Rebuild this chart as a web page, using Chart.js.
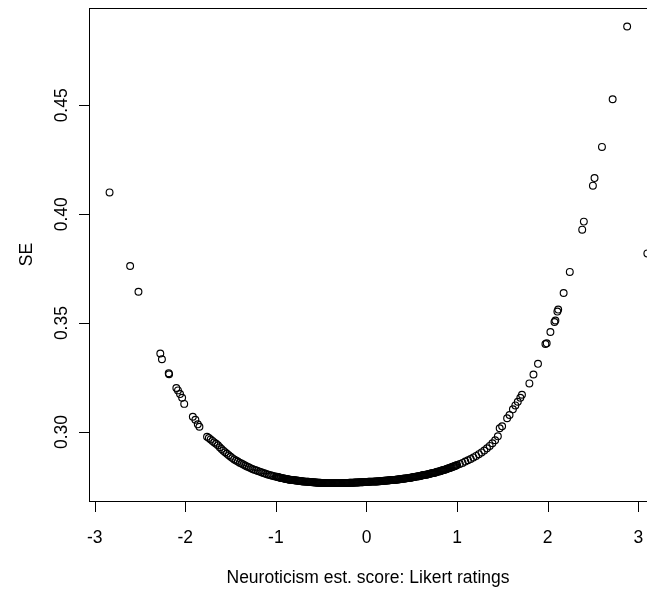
<!DOCTYPE html>
<html>
<head>
<meta charset="utf-8">
<script src="https://cdn.jsdelivr.net/npm/chart.js@4.4.1/dist/chart.umd.min.js"></script>
<style>
  html, body { margin: 0; padding: 0; background: #fff; }
  #wrap { width: 647px; height: 594px; overflow: hidden; position: relative; }
  #seChart { display: block; }
</style>
</head>
<body>
<div id="wrap"><canvas id="seChart" width="700" height="594"></canvas></div>
<script>
// theta estimates (Likert ratings) and their standard errors
var thetaLikert = [
  -2.836, -2.609, -2.517, -2.276, -2.258, -2.183, -2.179, -2.099, -2.081, -2.058, -2.035, -2.012,
  -1.917, -1.889, -1.862, -1.844,
  -1.76, -1.74, -1.72, -1.70, -1.68, -1.66, -1.64, -1.62, -1.60, -1.58, -1.56, -1.54, -1.52,
  -1.50, -1.48, -1.46, -1.44, -1.42, -1.40, -1.38, -1.36, -1.34, -1.32, -1.30, -1.28, -1.26,
  -1.24, -1.22, -1.20, -1.18, -1.16, -1.14, -1.12, -1.10, -1.08, -1.06, -1.04, -1.02,
  -1.00, -0.99, -0.98, -0.97, -0.96, -0.95, -0.94, -0.93, -0.92, -0.91,
  -0.90, -0.89, -0.88, -0.87, -0.86, -0.85, -0.84, -0.83, -0.82, -0.81,
  -0.80, -0.79, -0.78, -0.77, -0.76, -0.75, -0.74, -0.73, -0.72, -0.71,
  -0.70, -0.69, -0.68, -0.67, -0.66, -0.65, -0.64, -0.63, -0.62, -0.61,
  -0.60, -0.59, -0.58, -0.57, -0.56, -0.55, -0.54, -0.53, -0.52, -0.51,
  -0.50, -0.49, -0.48, -0.47, -0.46, -0.45, -0.44, -0.43, -0.42, -0.41,
  -0.40, -0.39, -0.38, -0.37, -0.36, -0.35, -0.34, -0.33, -0.32, -0.31,
  -0.30, -0.29, -0.28, -0.27, -0.26, -0.25, -0.24, -0.23, -0.22, -0.21,
  -0.20, -0.19, -0.18, -0.17, -0.16, -0.15, -0.14, -0.13, -0.12, -0.11,
  -0.10, -0.09, -0.08, -0.07, -0.06, -0.05, -0.04, -0.03, -0.02, -0.01,
  0.00, 0.01, 0.02, 0.03, 0.04, 0.05, 0.06, 0.07, 0.08, 0.09,
  0.10, 0.11, 0.12, 0.13, 0.14, 0.15, 0.16, 0.17, 0.18, 0.19,
  0.20, 0.21, 0.22, 0.23, 0.24, 0.25, 0.26, 0.27, 0.28, 0.29,
  0.30, 0.31, 0.32, 0.33, 0.34, 0.35, 0.36, 0.37, 0.38, 0.39,
  0.40, 0.41, 0.42, 0.43, 0.44, 0.45, 0.46, 0.47, 0.48, 0.49,
  0.50, 0.51, 0.52, 0.53, 0.54, 0.55, 0.56, 0.57, 0.58, 0.59,
  0.60, 0.61, 0.62, 0.63, 0.64, 0.65, 0.66, 0.67, 0.68, 0.69,
  0.70, 0.71, 0.72, 0.73, 0.74, 0.75, 0.76, 0.77, 0.78, 0.79,
  0.80, 0.81, 0.82, 0.83, 0.84, 0.85, 0.86, 0.87, 0.88, 0.89,
  0.90, 0.91, 0.92, 0.93, 0.94, 0.95, 0.96, 0.97, 0.98, 0.99,
  1.00,
  1.03, 1.06, 1.09, 1.12, 1.15, 1.18, 1.21, 1.24, 1.27, 1.30, 1.33, 1.36, 1.39, 1.42, 1.45,
  1.470, 1.497, 1.552, 1.579, 1.616, 1.643, 1.670, 1.698, 1.716, 1.798, 1.843, 1.893,
  1.975, 1.989, 2.030, 2.075, 2.085, 2.107, 2.116, 2.176, 2.244, 2.381, 2.399, 2.499,
  2.517, 2.599, 2.717, 2.877, 3.100
];
var seLikert = [
  0.4100, 0.3762, 0.3644, 0.3360, 0.3334, 0.3270, 0.3265, 0.3202, 0.3191, 0.3174, 0.3157, 0.3129,
  0.3070, 0.3056, 0.3035, 0.3024,
  0.2978, 0.2972, 0.2966, 0.2959, 0.2952, 0.2946, 0.2939, 0.2930, 0.2922, 0.2914, 0.2907, 0.2900, 0.2893,
  0.2886, 0.2880, 0.2874, 0.2869, 0.2864, 0.2859, 0.2855, 0.2851, 0.2846, 0.2842, 0.2838, 0.2834, 0.2830,
  0.2827, 0.2824, 0.2821, 0.2818, 0.2815, 0.2812, 0.2809, 0.2806, 0.2804, 0.2801, 0.2799, 0.2797,
  0.2795, 0.2794, 0.2793, 0.2792, 0.2791, 0.2790, 0.2789, 0.2788, 0.2787, 0.2786,
  0.2785, 0.2784, 0.2784, 0.2783, 0.2782, 0.2781, 0.2781, 0.2780, 0.2779, 0.2779,
  0.2778, 0.2778, 0.2777, 0.2777, 0.2776, 0.2776, 0.2775, 0.2775, 0.2774, 0.2774,
  0.2773, 0.2773, 0.2772, 0.2772, 0.2771, 0.2771, 0.2771, 0.2770, 0.2770, 0.2770,
  0.2769, 0.2769, 0.2769, 0.2768, 0.2768, 0.2768, 0.2767, 0.2767, 0.2767, 0.2767,
  0.2766, 0.2766, 0.2766, 0.2766, 0.2766, 0.2765, 0.2765, 0.2765, 0.2765, 0.2765,
  0.2765, 0.2765, 0.2765, 0.2765, 0.2765, 0.2765, 0.2765, 0.2765, 0.2765, 0.2765,
  0.2765, 0.2765, 0.2765, 0.2765, 0.2766, 0.2766, 0.2766, 0.2766, 0.2766, 0.2766,
  0.2766, 0.2767, 0.2767, 0.2767, 0.2767, 0.2767, 0.2767, 0.2768, 0.2768, 0.2768,
  0.2768, 0.2768, 0.2769, 0.2769, 0.2769, 0.2769, 0.2769, 0.2770, 0.2770, 0.2770,
  0.2770, 0.2770, 0.2771, 0.2771, 0.2771, 0.2772, 0.2772, 0.2772, 0.2772, 0.2773,
  0.2773, 0.2773, 0.2773, 0.2774, 0.2774, 0.2774, 0.2775, 0.2775, 0.2775, 0.2776,
  0.2776, 0.2776, 0.2777, 0.2777, 0.2777, 0.2778, 0.2778, 0.2779, 0.2779, 0.2779,
  0.2780, 0.2780, 0.2781, 0.2781, 0.2782, 0.2782, 0.2783, 0.2783, 0.2784, 0.2784,
  0.2785, 0.2785, 0.2786, 0.2786, 0.2787, 0.2788, 0.2788, 0.2789, 0.2790, 0.2790,
  0.2791, 0.2792, 0.2793, 0.2793, 0.2794, 0.2795, 0.2796, 0.2797, 0.2797, 0.2798,
  0.2799, 0.2800, 0.2801, 0.2802, 0.2803, 0.2804, 0.2804, 0.2805, 0.2806, 0.2807,
  0.2808, 0.2809, 0.2810, 0.2811, 0.2812, 0.2813, 0.2814, 0.2815, 0.2817, 0.2818,
  0.2819, 0.2820, 0.2821, 0.2823, 0.2824, 0.2825, 0.2826, 0.2828, 0.2829, 0.2831,
  0.2832, 0.2834, 0.2835, 0.2837, 0.2838, 0.2840, 0.2841, 0.2843, 0.2845, 0.2846,
  0.2848,
  0.2853, 0.2858, 0.2864, 0.2870, 0.2876, 0.2883, 0.2890, 0.2898, 0.2906, 0.2915, 0.2925, 0.2936, 0.2948, 0.2962, 0.2980,
  0.3017, 0.3026, 0.3063, 0.3078, 0.3104, 0.3122, 0.3139, 0.3157, 0.3171, 0.3223, 0.3264, 0.3313,
  0.3404, 0.3407, 0.3459, 0.3505, 0.3512, 0.3553, 0.3562, 0.3638, 0.3735, 0.3929, 0.3966, 0.4131,
  0.4166, 0.4309, 0.4528, 0.4862, 0.3820
];

var xTicks = [-3, -2, -1, 0, 1, 2, 3];
var yTicks = [0.30, 0.35, 0.40, 0.45];
var yTickLabels = ["0.30", "0.35", "0.40", "0.45"];
var xTitle = "Neuroticism est. score: Likert ratings";
var yTitle = "SE";

var points = thetaLikert.map(function (t, i) { return { x: t, y: seLikert[i] }; });

var FONT = '17.5px "Liberation Sans", Arial, sans-serif';

// R style frame, ticks and labels
var rAxes = {
  id: 'rAxes',
  afterDraw: function (chart) {
    var ctx = chart.ctx;
    var a = chart.chartArea;
    var xs = chart.scales.x, ys = chart.scales.y;
    ctx.save();
    ctx.strokeStyle = '#000';
    ctx.lineWidth = 1;
    var L = Math.round(a.left) + 0.5, T = Math.round(a.top) + 0.5;
    var R = Math.round(a.right) + 0.5, B = Math.round(a.bottom) + 0.5;
    ctx.strokeRect(L, T, R - L, B - T);

    ctx.fillStyle = '#000';
    ctx.font = FONT;
    ctx.beginPath();
    xTicks.forEach(function (v) {
      var px = Math.round(xs.getPixelForValue(v)) + 0.5;
      ctx.moveTo(px, B);
      ctx.lineTo(px, B + 10.5);
    });
    yTicks.forEach(function (v) {
      var py = Math.round(ys.getPixelForValue(v)) + 0.5;
      ctx.moveTo(L, py);
      ctx.lineTo(L - 10.5, py);
    });
    ctx.stroke();

    ctx.textAlign = 'center';
    ctx.textBaseline = 'alphabetic';
    xTicks.forEach(function (v) {
      ctx.fillText(String(v), xs.getPixelForValue(v), 543);
    });
    ctx.fillText(xTitle, 368, 583);

    yTicks.forEach(function (v, i) {
      ctx.save();
      ctx.translate(66.5, ys.getPixelForValue(v));
      ctx.rotate(-Math.PI / 2);
      ctx.fillText(yTickLabels[i], 0, 0);
      ctx.restore();
    });
    ctx.save();
    ctx.translate(31.5, (a.top + a.bottom) / 2);
    ctx.rotate(-Math.PI / 2);
    ctx.fillText(yTitle, 0, 0);
    ctx.restore();
    ctx.restore();
  }
};

new Chart(document.getElementById('seChart'), {
  type: 'scatter',
  data: {
    datasets: [{
      data: points,
      pointStyle: 'circle',
      pointRadius: 3.4,
      pointBorderWidth: 1.15,
      pointBackgroundColor: 'rgba(0,0,0,0)',
      pointBorderColor: '#000',
      clip: false
    }]
  },
  options: {
    responsive: false,
    animation: false,
    events: [],
    layout: { padding: { left: 89, top: 8, right: 31, bottom: 93 } },
    plugins: { legend: { display: false }, tooltip: { enabled: false } },
    scales: {
      x: { type: 'linear', display: false, min: -3.063, max: 3.339 },
      y: { type: 'linear', display: false, min: 0.2683, max: 0.4947 }
    }
  },
  plugins: [rAxes]
});
</script>
</body>
</html>
